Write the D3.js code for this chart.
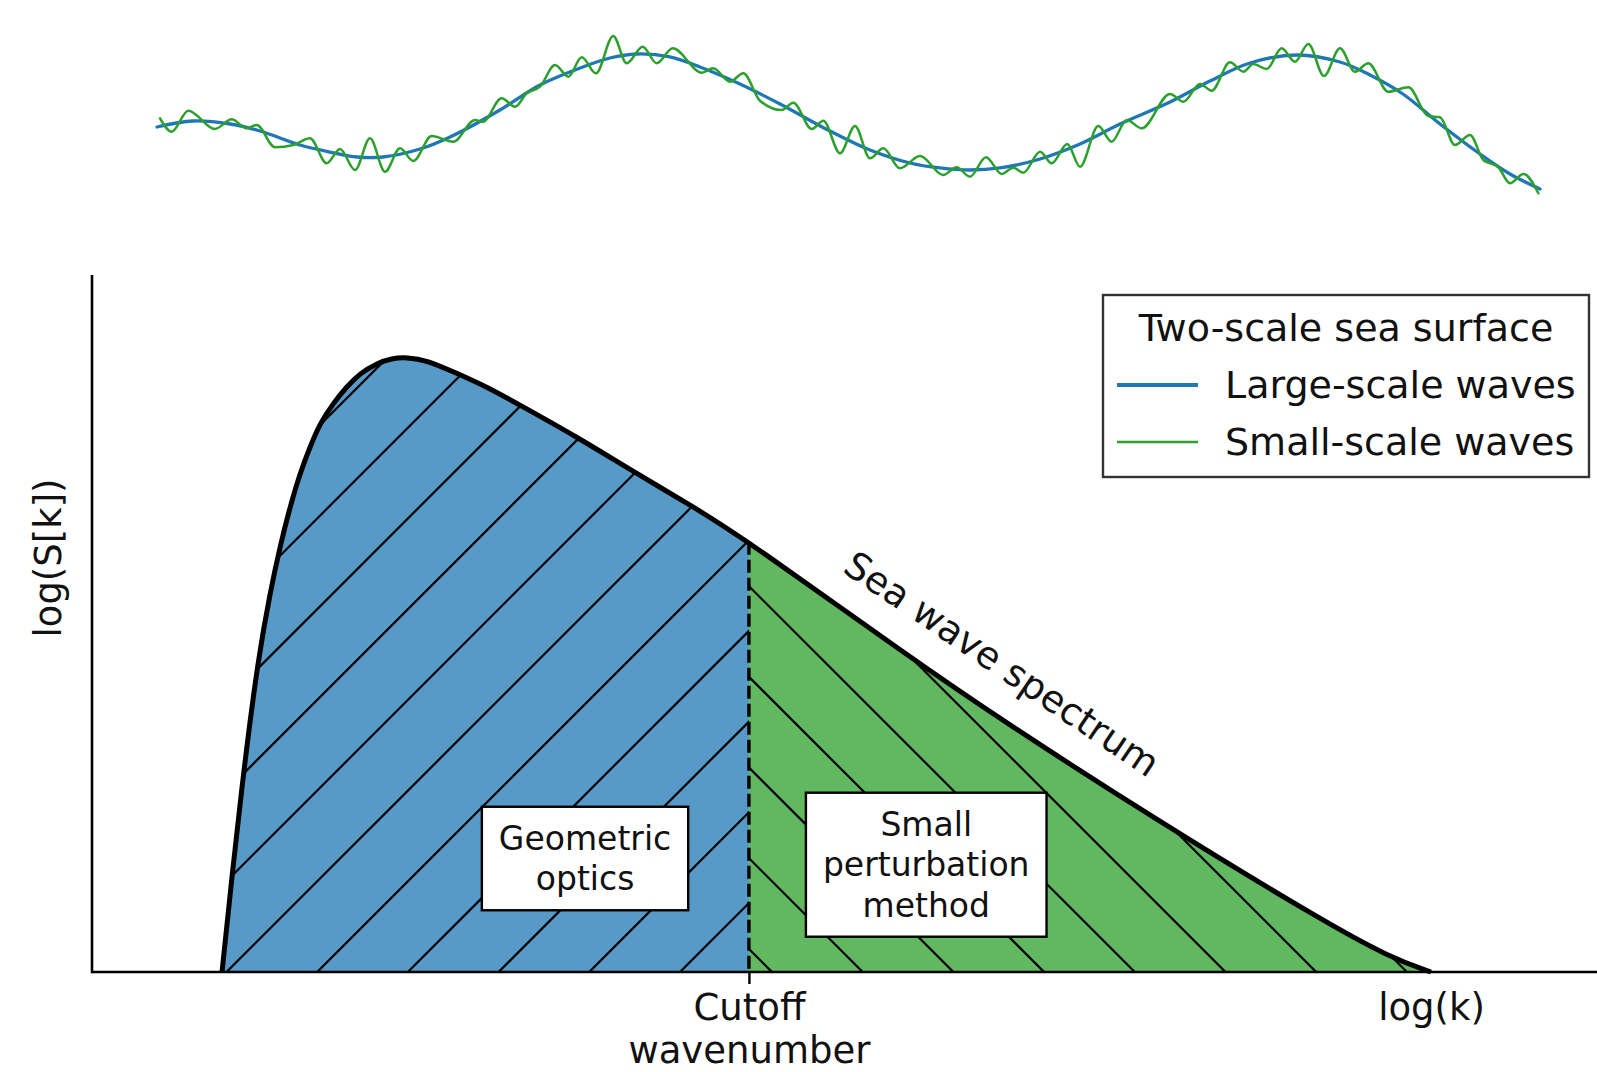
<!DOCTYPE html>
<html>
<head>
<meta charset="utf-8">
<script src="https://cdn.jsdelivr.net/npm/d3@7"></script>
<style>
  body { margin: 0; background: #fff; }
  svg { display: block; }
  text { font-family: "DejaVu Sans", "Noto Sans", sans-serif; fill: #111; }
</style>
</head>
<body>
<svg id="chart" width="1597" height="1072"></svg>
<script>
// ---- Sea surface profile (distance along track, elevation) ----
const largeDist = [0, 0.26, 0.53, 0.745, 1.034, 1.251, 1.446, 1.634, 1.902, 2.119, 2.48, 2.769, 3.059, 3.275, 3.471, 3.709, 3.926, 4.215, 4.505, 4.866, 5.155, 5.445, 5.662, 5.879, 6.095, 6.385, 6.674, 6.963, 7.325, 7.614, 7.903, 8.243, 8.554, 8.771, 9.009, 9.277, 9.566, 9.783, 10];
const largeElev = [-0.25, -0.15, -0.2, -0.317, -0.55, -0.667, -0.75, -0.75, -0.617, -0.417, 0.033, 0.45, 0.733, 0.9, 0.967, 0.917, 0.75, 0.467, 0.133, -0.317, -0.633, -0.85, -0.933, -0.967, -0.933, -0.783, -0.533, -0.2, 0.167, 0.517, 0.817, 0.95, 0.833, 0.617, 0.3, -0.2, -0.7, -1.033, -1.283];

const smallDist = [0.022, 0.106, 0.226, 0.419, 0.54, 0.649, 0.721, 0.853, 0.986, 1.106, 1.227, 1.323, 1.432, 1.54, 1.649, 1.757, 1.853, 1.986, 2.142, 2.299, 2.357, 2.492, 2.589, 2.673, 2.769, 2.878, 2.974, 3.071, 3.174, 3.299, 3.396, 3.512, 3.613, 3.729, 3.939, 4.022, 4.143, 4.239, 4.36, 4.517, 4.601, 4.734, 4.818, 4.939, 5.047, 5.155, 5.252, 5.372, 5.517, 5.685, 5.782, 5.878, 5.994, 6.108, 6.192, 6.264, 6.385, 6.469, 6.582, 6.674, 6.806, 6.903, 7.012, 7.12, 7.325, 7.421, 7.542, 7.626, 7.758, 7.855, 7.927, 8.024, 8.132, 8.228, 8.325, 8.438, 8.554, 8.662, 8.758, 8.903, 9.048, 9.192, 9.277, 9.385, 9.494, 9.59, 9.698, 9.783, 9.88, 9.988];
const smallElev = [-0.105, -0.328, 0.022, -0.283, -0.122, -0.272, -0.217, -0.588, -0.55, -0.438, -0.855, -0.617, -0.967, -0.438, -0.995, -0.605, -0.817, -0.4, -0.495, -0.133, -0.162, 0.228, 0.088, 0.312, 0.422, 0.783, 0.588, 0.912, 0.645, 1.267, 0.812, 1.088, 0.812, 1.062, 0.655, 0.728, 0.505, 0.645, 0.188, 0.033, 0.155, -0.283, -0.145, -0.688, -0.233, -0.772, -0.605, -0.938, -0.733, -1.05, -0.922, -1.078, -0.755, -1.033, -0.928, -1.012, -0.662, -0.855, -0.533, -0.912, -0.233, -0.495, -0.133, -0.272, 0.3, 0.172, 0.467, 0.355, 0.828, 0.672, 0.8, 0.717, 1.062, 0.838, 1.133, 0.6, 1.062, 0.672, 0.812, 0.338, 0.412, -0.067, -0.088, -0.55, -0.383, -0.8, -0.917, -1.188, -1.033, -1.355];

const seriesNames = ["Large-scale waves", "Small-scale waves"];
const seriesColors = ["#1f77b4", "#2ca02c"];
const legendTitle = "Two-scale sea surface";

// ---- Sea wave spectrum (log wavenumber, log spectral density) ----
const logK = [0.864, 0.93, 1.013, 1.106, 1.183, 1.249, 1.316, 1.382, 1.449, 1.515, 1.603, 1.692, 1.781, 1.892, 1.991, 2.091, 2.224, 2.423, 2.622, 2.822, 3.221, 3.597, 3.995, 4.365, 5.432, 6.054, 7.103, 8.186, 8.625, 8.897];
const logS = [0, 1.377, 2.984, 4.519, 5.438, 6.102, 6.676, 7.155, 7.537, 7.872, 8.159, 8.397, 8.59, 8.733, 8.805, 8.819, 8.78, 8.59, 8.397, 8.159, 7.68, 7.178, 6.676, 6.172, 4.519, 3.6, 2.138, 0.722, 0.209, 0];
const cutoffK = 4.365;
const xTickLabels = [["Cutoff", "wavenumber"], ["log(k)"]];
const yAxisLabel = "log(S[k])";
const regionLabels = [
  { lines: ["Geometric", "optics"], k: 3.276, s: 1.629 },
  { lines: ["Small", "perturbation", "method"], k: 5.543, s: 1.54 }
];
const curveLabel = { text: "Sea wave spectrum", k: 6.047, s: 4.42, angle: 34 };

const svg = d3.select("#chart");

// ---------- top panel: surface profile ----------
const sx = d3.scaleLinear([0, 10], [157, 1540]);
const sy = d3.scaleLinear([-1.5, 1.5], [202, 22]);

const largePts = largeDist.map((d, i) => [d, largeElev[i]]);
const smallPts = smallDist.map((d, i) => [d, smallElev[i]]);

svg.append("path")
  .attr("d", d3.line().x(d => sx(d[0])).y(d => sy(d[1])).curve(d3.curveCatmullRom)(largePts))
  .attr("fill", "none").attr("stroke", seriesColors[0]).attr("stroke-width", 3.3)
  .attr("stroke-linecap", "round");
svg.append("path")
  .attr("d", d3.line().x(d => sx(d[0])).y(d => sy(d[1])).curve(d3.curveMonotoneX)(smallPts))
  .attr("fill", "none").attr("stroke", seriesColors[1]).attr("stroke-width", 2.5)
  .attr("stroke-linecap", "round");

// ---------- main panel: spectrum ----------
const x = d3.scaleLinear([0, 10], [92, 1597]);
const y = d3.scaleLinear([0, 10], [972, 275]);

const specPts = logK.map((k, i) => [k, logS[i]]);
const curve = d3.curveBasis;
const area = d3.area().x(d => x(d[0])).y0(y(0)).y1(d => y(d[1])).curve(curve);
const line = d3.line().x(d => x(d[0])).y(d => y(d[1])).curve(curve);
const areaPath = area(specPts);

const defs = svg.append("defs");
defs.append("clipPath").attr("id", "clipSpec").append("path").attr("d", areaPath);
defs.append("clipPath").attr("id", "clipLeft").append("rect")
  .attr("x", 0).attr("y", 0).attr("width", x(cutoffK)).attr("height", 1072);
defs.append("clipPath").attr("id", "clipRight").append("rect")
  .attr("x", x(cutoffK)).attr("y", 0).attr("width", 1597 - x(cutoffK)).attr("height", 1072);

const step = 90.7, reach = 900, base = y(0);

// large-scale band (below cutoff)
const gLow = svg.append("g").attr("clip-path", "url(#clipLeft)")
  .append("g").attr("clip-path", "url(#clipSpec)");
gLow.append("path").attr("d", areaPath).attr("fill", "#5799c7");
for (let n = -3; n <= 10; n++) {
  const c = 680 - n * step;
  gLow.append("line").attr("x1", c - 20).attr("y1", base + 20).attr("x2", c + reach).attr("y2", base - reach)
    .attr("stroke", "#000").attr("stroke-width", 2.2);
}

// small-scale band (above cutoff)
const gHigh = svg.append("g").attr("clip-path", "url(#clipRight)")
  .append("g").attr("clip-path", "url(#clipSpec)");
gHigh.append("path").attr("d", areaPath).attr("fill", "#61b861");
for (let n = -2; n <= 12; n++) {
  const c = 772 + n * step;
  gHigh.append("line").attr("x1", c + 20).attr("y1", base + 20).attr("x2", c - reach).attr("y2", base - reach)
    .attr("stroke", "#000").attr("stroke-width", 2.2);
}

// cutoff divider
const cutoffS = logS[logK.indexOf(cutoffK)];
svg.append("line")
  .attr("x1", x(cutoffK)).attr("x2", x(cutoffK))
  .attr("y1", y(cutoffS)).attr("y2", y(0))
  .attr("stroke", "#000").attr("stroke-width", 3.4).attr("stroke-dasharray", "13,5");

// spectrum outline
svg.append("path").attr("d", line(specPts))
  .attr("fill", "none").attr("stroke", "#000").attr("stroke-width", 5).attr("stroke-linejoin", "round");

// axes
const xAxis = d3.axisBottom(x).tickValues([cutoffK, logK[logK.length - 1]]).tickSize(12).tickFormat(() => "");
const gx = svg.append("g").attr("transform", `translate(0,${y(0)})`).call(xAxis);
gx.select(".domain").attr("stroke", "#000").attr("stroke-width", 2.6).attr("d", `M${x(0)},0H1597`);
gx.selectAll(".tick line").attr("stroke", "#000").attr("stroke-width", 2.4);
gx.selectAll(".tick").filter((d, i) => i === 1).select("line").remove();
gx.selectAll(".tick").each(function (d, i) {
  const t = d3.select(this).append("text").attr("text-anchor", "middle")
    .attr("font-size", 37).attr("y", 48);
  xTickLabels[i].forEach((s, j) => t.append("tspan").attr("x", 0).attr("dy", j === 0 ? 0 : 43.2).text(s));
});

svg.append("line").attr("x1", x(0)).attr("x2", x(0)).attr("y1", y(0) + 1.3).attr("y2", y(10))
  .attr("stroke", "#000").attr("stroke-width", 2.6);

svg.append("text").attr("transform", `translate(61,558) rotate(-90)`)
  .attr("text-anchor", "middle").attr("font-size", 37).text(yAxisLabel);

// curve label
svg.append("text")
  .attr("transform", `translate(${x(curveLabel.k)},${y(curveLabel.s)}) rotate(${curveLabel.angle})`)
  .attr("text-anchor", "middle").attr("dy", "0.35em").attr("font-size", 37.5).text(curveLabel.text);

// region labels in boxes
regionLabels.forEach(r => {
  const g = svg.append("g").attr("transform", `translate(${x(r.k)},${y(r.s)})`);
  const lh = 40.5, n = r.lines.length;
  const t = g.append("text").attr("text-anchor", "middle").attr("font-size", 33);
  r.lines.forEach((s, j) => t.append("tspan").attr("x", 0)
    .attr("y", (j - (n - 1) / 2) * lh).attr("dy", "0.35em").text(s));
  const bb = t.node().getBBox();
  const padX = 17, padY = 12;
  g.insert("rect", "text")
    .attr("x", bb.x - padX).attr("y", bb.y - padY)
    .attr("width", bb.width + 2 * padX).attr("height", bb.height + 2 * padY)
    .attr("fill", "#fff").attr("stroke", "#000").attr("stroke-width", 2.4);
});

// legend
const lg = svg.append("g").attr("transform", "translate(1103,295)");
lg.append("rect").attr("width", 486).attr("height", 182)
  .attr("fill", "#fff").attr("stroke", "#333").attr("stroke-width", 2.4);
lg.append("text").attr("x", 243).attr("y", 33).attr("dy", "0.35em")
  .attr("text-anchor", "middle").attr("font-size", 38).text(legendTitle);
seriesNames.forEach((name, i) => {
  const yy = 90 + i * 57;
  lg.append("line").attr("x1", 14).attr("x2", 95).attr("y1", yy).attr("y2", yy)
    .attr("stroke", seriesColors[i]).attr("stroke-width", i === 0 ? 4.2 : 2.6);
  lg.append("text").attr("x", 122).attr("y", yy).attr("dy", "0.35em")
    .attr("font-size", 38).text(name);
});
</script>
</body>
</html>
